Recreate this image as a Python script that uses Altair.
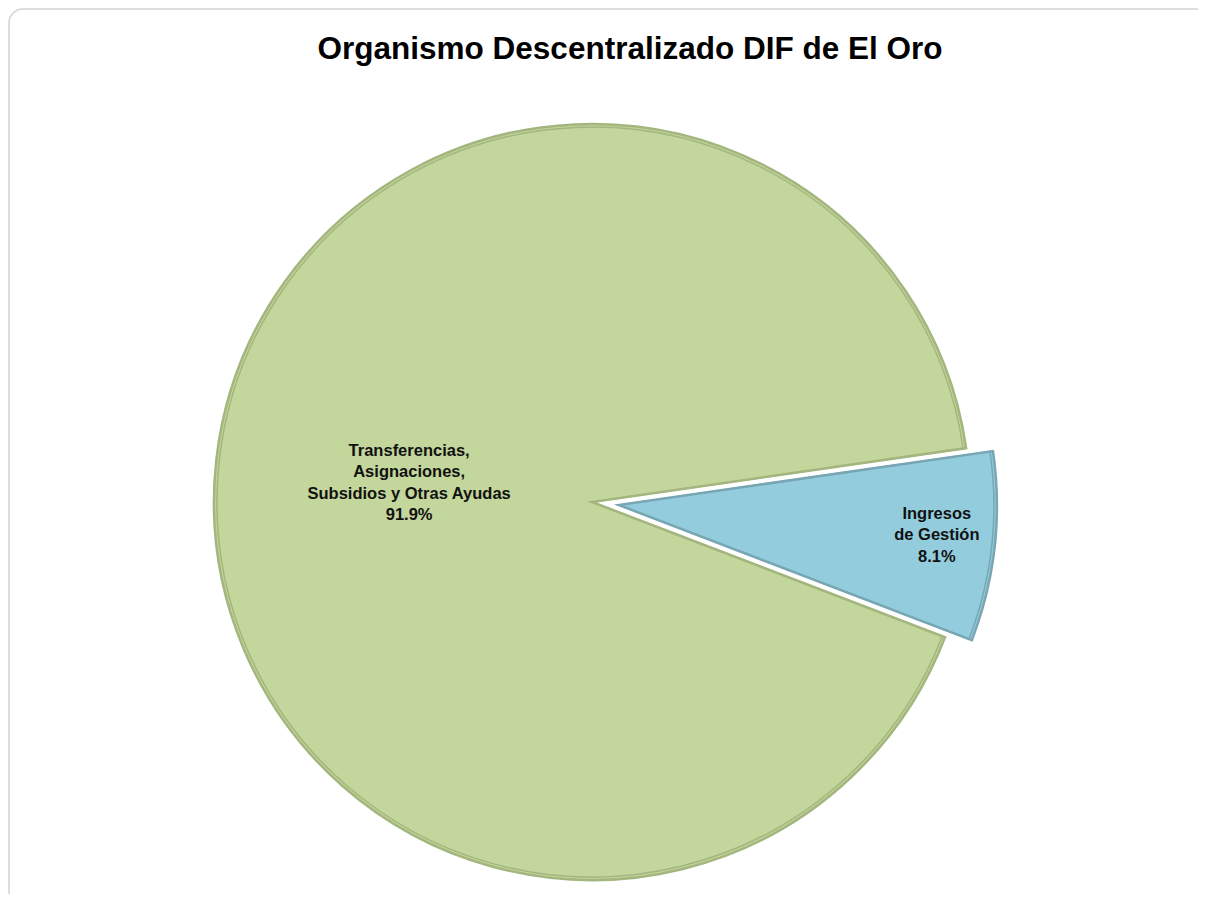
import math
import altair as alt
import pandas as pd

# ---- data ----
title_text = "Organismo Descentralizado DIF de El Oro"
categories = ["Ingresos de Gestión", "Transferencias, Asignaciones, Subsidios y Otras Ayudas"]
label_lines = ["Ingresos\nde Gestión", "Transferencias,\nAsignaciones,\nSubsidios y Otras Ayudas"]
shares = [8.1, 91.9]
slice_order = [0, 1]
fill_colors = ["#93CDDD", "#C3D69B"]
stroke_colors = ["#78A6B4", "#A3B67E"]
highlight_colors = ["#B8E4F0", "#DDE9B4"]

df = pd.DataFrame({
    "category": categories,
    "label": label_lines,
    "share": shares,
    "order": slice_order,
})

# ---- layout / style ----
W, H = 1190, 886
R = 378
cx, cy = 584, 494
start_angle = math.radians(81.8)
explode = 27
font = "Liberation Sans"

# direction of exploded slice (bisector of the first slice)
mid_first = start_angle + (shares[0] / sum(shares)) * math.pi
bx = cx + explode * math.sin(mid_first)
by = cy - explode * math.cos(mid_first)

theta_scale = alt.Scale(domain=[0, 100], range=[start_angle, start_angle + 2 * math.pi])
color_scale = alt.Scale(domain=categories, range=fill_colors)
stroke_scale = alt.Scale(domain=categories, range=stroke_colors)
hl_scale = alt.Scale(domain=categories, range=highlight_colors)

base = (
    alt.Chart(df)
    .transform_window(cum="sum(share)", sort=[alt.SortField("order")], frame=[None, 0])
    .transform_calculate(
        start="datum.cum - datum.share",
        mid="datum.cum - datum.share / 2",
        txt="datum.label + '\\n' + format(datum.share, '.1f') + '%'",
    )
)

def arc_layer(order_value, x, y):
    fill = (
        base.transform_filter(alt.datum.order == order_value)
        .mark_arc(x=x, y=y, outerRadius=R, strokeWidth=2.5)
        .encode(
            theta=alt.Theta("start:Q", scale=theta_scale, stack=False),
            theta2="cum:Q",
            color=alt.Color("category:N", scale=color_scale, legend=None),
            stroke=alt.Stroke("category:N", scale=stroke_scale, legend=None),
        )
    )
    hl = (
        base.transform_filter(alt.datum.order == order_value)
        .mark_arc(x=x, y=y, outerRadius=R - 3, strokeWidth=1.5, fillOpacity=0)
        .encode(
            theta=alt.Theta("start:Q", scale=theta_scale, stack=False),
            theta2="cum:Q",
            stroke=alt.Stroke("category:N", scale=hl_scale, legend=None),
        )
    )
    return [fill, hl]

def text_layer(order_value, x, y, radius, dy):
    return (
        base.transform_filter(alt.datum.order == order_value)
        .mark_text(
            x=x, y=y, radius=radius, dy=dy, lineBreak="\n", lineHeight=21.5,
            font=font, fontSize=16.5, fontWeight="bold", color="#111111",
            align="center", baseline="middle",
        )
        .encode(
            theta=alt.Theta("mid:Q", scale=theta_scale, stack=False),
            text="txt:N",
        )
    )

green = arc_layer(1, cx, cy)
blue = arc_layer(0, bx, by)
green_text = text_layer(1, cx, cy, 184, -31)
blue_text = text_layer(0, bx, by, 320, -27)

single = alt.Data(values=[{"t": title_text}])

frame = (
    alt.Chart(single)
    .mark_rect(fill="white", fillOpacity=0, stroke="#D4D4D4", strokeWidth=1.5, cornerRadius=14)
    .encode(x=alt.value(1), x2=alt.value(W + 30), y=alt.value(1), y2=alt.value(H + 30))
)

title = (
    alt.Chart(single)
    .mark_text(x=622, y=42, font=font, fontSize=31.5, fontWeight="bold",
               color="#000000", align="center", baseline="middle")
    .encode(text="t:N")
)

chart = (
    alt.layer(frame, *green, *blue, green_text, blue_text, title)
    .properties(width=W, height=H, padding=0, background="white",
                autosize=alt.AutoSizeParams(type="none"))
    .configure_view(stroke=None)
)

chart.save("out.html", embed_options={"renderer": "svg", "actions": False})
